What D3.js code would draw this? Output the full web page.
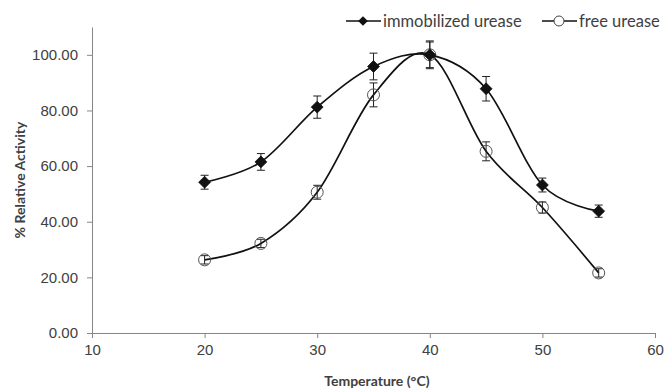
<!DOCTYPE html>
<html>
<head>
<meta charset="utf-8">
<script src="https://cdn.jsdelivr.net/npm/d3@7"></script>
<style>
  html, body { margin: 0; padding: 0; background: #fff; }
  svg { display: block; font-family: Lato, "Open Sans", sans-serif; }
</style>
</head>
<body>
<svg id="chart" width="665" height="391"></svg>
<script>
// Temperature (°C) and % relative activity with standard deviations
const temperatures = [20, 25, 30, 35, 40, 45, 50, 55];
const immobilized = [54.2, 61.5, 81.2, 95.8, 100, 87.8, 53.2, 43.8];
const immobilizedErr = [2.5, 3.0, 4.0, 4.8, 5.0, 4.4, 2.5, 2.2];
const freeEnzyme = [26.3, 32.2, 50.6, 85.6, 100, 65.3, 45.1, 21.6];
const freeErr = [1.5, 1.5, 2.5, 4.3, 4.6, 3.4, 2.0, 1.5];
const seriesNames = ["immobilized urease", "free urease"];
const xTicks = [10, 20, 30, 40, 50, 60];
const yTicks = [0, 20, 40, 60, 80, 100];

const svg = d3.select("#chart");
const x = d3.scaleLinear().domain([10, 60]).range([92, 655]);
const y = d3.scaleLinear().domain([0, 110]).range([333, 27]);

const axisColor = "#868686";
const textColor = "#404040";

// Y axis
const yAxis = svg.append("g")
  .attr("transform", `translate(${x(10)},0)`)
  .call(d3.axisLeft(y).tickValues(yTicks).tickSize(5).tickSizeOuter(0).tickFormat(d3.format(".2f")));
yAxis.select(".domain").attr("stroke", axisColor);
yAxis.selectAll(".tick line").attr("stroke", axisColor);
yAxis.selectAll(".tick text").attr("fill", textColor).attr("font-size", 15).attr("dx", -6);

// X axis
const xAxis = svg.append("g")
  .attr("transform", `translate(0,${y(0)})`)
  .call(d3.axisBottom(x).tickValues(xTicks).tickSize(5).tickSizeOuter(0));
xAxis.select(".domain").attr("stroke", axisColor);
xAxis.selectAll(".tick line").attr("stroke", axisColor);
xAxis.selectAll(".tick text").attr("fill", textColor).attr("font-size", 15).attr("dy", "0.95em");

// Axis titles
svg.append("text")
  .attr("x", x(35.3)).attr("y", 386)
  .attr("text-anchor", "middle").attr("font-size", 14).attr("font-weight", "bold")
  .attr("fill", textColor).text("Temperature (°C)");
svg.append("text")
  .attr("transform", `translate(25,${y(55)}) rotate(-90)`)
  .attr("text-anchor", "middle").attr("font-size", 14).attr("font-weight", "bold")
  .attr("fill", textColor).text("% Relative Activity");

// Smoothed series lines
const line = d3.line()
  .x(d => x(d[0])).y(d => y(d[1]))
  .curve(d3.curveCatmullRom.alpha(0));

function drawSeries(values, errs, marker) {
  const pts = temperatures.map((t, i) => [t, values[i], errs[i]]);
  svg.append("path").datum(pts)
    .attr("d", line).attr("fill", "none")
    .attr("stroke", "#111").attr("stroke-width", 1.7);

  const g = svg.append("g");
  // Error bars
  const eb = g.selectAll(".eb").data(pts).enter().append("g");
  eb.append("line")
    .attr("x1", d => x(d[0])).attr("x2", d => x(d[0]))
    .attr("y1", d => y(d[1] + d[2])).attr("y2", d => y(d[1] - d[2]))
    .attr("stroke", "#222").attr("stroke-width", 1);
  [1, -1].forEach(s => {
    eb.append("line")
      .attr("x1", d => x(d[0]) - 4).attr("x2", d => x(d[0]) + 4)
      .attr("y1", d => y(d[1] + s * d[2])).attr("y2", d => y(d[1] + s * d[2]))
      .attr("stroke", "#222").attr("stroke-width", 1);
  });
  // Markers
  if (marker === "diamond") {
    g.selectAll(".m").data(pts).enter().append("path")
      .attr("d", d3.symbol(d3.symbolDiamond2, 90)())
      .attr("transform", d => `translate(${x(d[0])},${y(d[1])})`)
      .attr("fill", "#111").attr("stroke", "#111").attr("stroke-width", 0.8);
  } else {
    g.selectAll(".m").data(pts).enter().append("circle")
      .attr("cx", d => x(d[0])).attr("cy", d => y(d[1])).attr("r", 6)
      .attr("fill", "none").attr("stroke", "#555").attr("stroke-width", 1);
  }
}

drawSeries(freeEnzyme, freeErr, "circle");
drawSeries(immobilized, immobilizedErr, "diamond");

// Legend
const legend = svg.append("g");
const ly = 21;
[[346, "diamond", seriesNames[0]], [542, "circle", seriesNames[1]]].forEach(([lx, m, name]) => {
  legend.append("line").attr("x1", lx).attr("x2", lx + 35).attr("y1", ly).attr("y2", ly)
    .attr("stroke", "#111").attr("stroke-width", 1.6);
  if (m === "diamond") {
    legend.append("path").attr("d", d3.symbol(d3.symbolDiamond2, 60)())
      .attr("transform", `translate(${lx + 17},${ly})`).attr("fill", "#111");
  } else {
    legend.append("circle").attr("cx", lx + 17).attr("cy", ly).attr("r", 5)
      .attr("fill", "#fff").attr("stroke", "#444").attr("stroke-width", 1);
  }
  legend.append("text").attr("x", lx + 37).attr("y", ly + 5.5)
    .attr("font-size", 16.5).attr("fill", textColor).text(name);
});
</script>
</body>
</html>
